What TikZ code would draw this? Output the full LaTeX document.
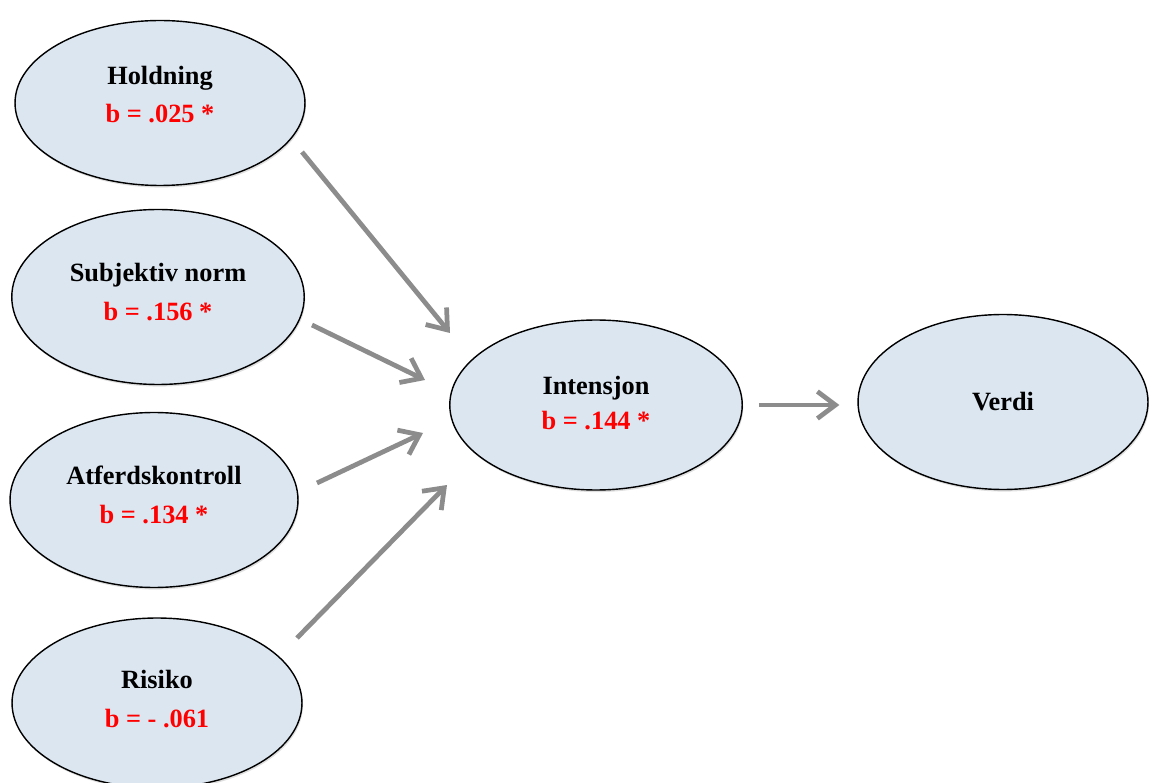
\documentclass[tikz,border=0pt]{standalone}
\usepackage{fontspec}
\setmainfont{Liberation Serif}
\usetikzlibrary{shapes.geometric, arrows.meta, calc, shadows}
\definecolor{ellfill}{RGB}{220,230,241}
\definecolor{arrgray}{RGB}{140,140,140}
\definecolor{bred}{RGB}{255,0,0}

\begin{document}
\begin{tikzpicture}[x=0.02cm, y=-0.02cm,
        var/.style={ellipse, draw=black, line width=0.8pt, fill=ellfill, inner sep=0pt,
            align=center, font=\fontsize{15}{21}\selectfont\bfseries,
            drop shadow={shadow xshift=0.6pt, shadow yshift=-1.2pt, opacity=0.25}},
        arr/.style={draw=arrgray, line width=2.7pt, -{Straight Barb[length=3.6mm, width=5.4mm]}}]
        \useasboundingbox (0,0) rectangle (1149,783);

        \node[var, minimum width=5.8cm, minimum height=3.3cm] at (160,103) (hold) {Holdning\\[1pt]\textcolor{bred}{b = .025 *}\\[-11pt]};
        \node[var, minimum width=5.85cm, minimum height=3.5cm] at (158,297) (subj) {Subjektiv norm\\[1pt]\textcolor{bred}{b = .156 *}\\[-15pt]};
        \node[var, minimum width=5.76cm, minimum height=3.5cm] at (154,500) (atf) {Atferdskontroll\\[1pt]\textcolor{bred}{b = .134 *}\\[-15pt]};
        \node[var, minimum width=5.8cm, minimum height=3.4cm] at (157,703) (ris) {Risiko\\[1pt]\textcolor{bred}{b = - .061}\\[-16pt]};
        \node[var, minimum width=5.85cm, minimum height=3.4cm] at (596,405) (int) {Intensjon\\[-1pt]\textcolor{bred}{b = .144 *}\\[-19pt]};
        \node[var, minimum width=5.8cm, minimum height=3.5cm] at (1003,402) (verdi) {Verdi};

        % arrow ends
        \coordinate (h1) at (302,152);
        \coordinate (h2) at (450,333);
        \coordinate (s1) at (312,325);
        \coordinate (s2) at (425,380);
        \coordinate (a1) at (317,483);
        \coordinate (a2) at (423,433);
        \coordinate (r1) at (297,638);
        \coordinate (r2) at (447,485);
        \coordinate (i1) at ($(int.east)+(16,0)$);
        \coordinate (i2) at ($(verdi.west)+(-18,3)$);

        \draw[arr] (h1) -- (h2);
        \draw[arr] (s1) -- (s2);
        \draw[arr] (a1) -- (a2);
        \draw[arr] (r1) -- (r2);
        \draw[arr] (i1) -- (i2);
    \end{tikzpicture}
\end{document}
